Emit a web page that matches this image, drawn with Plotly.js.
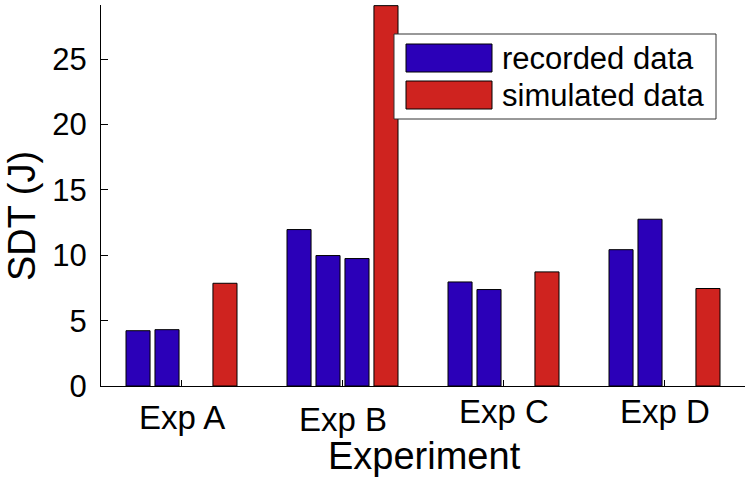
<!DOCTYPE html>
<html>
<head>
<meta charset="utf-8">
<script src="https://cdn.plot.ly/plotly-3.0.1.min.js"></script>
<style>
  html, body { margin: 0; padding: 0; background: #ffffff; }
  #chart { width: 750px; height: 483px; }
</style>
</head>
<body>
<div id="chart"></div>
<script>
// ---- data ----
const categories = ['Exp A', 'Exp B', 'Exp C', 'Exp D'];
const recordedRun1 = [4.23, 11.97, 7.96, 10.43];
const recordedRun2 = [4.31, 9.98, 7.38, 12.76];
const recordedRun3 = [null, 9.75, null, null];
const simulated = [7.86, 29.1, 8.73, 7.46];
const seriesNames = ['recorded data', 'simulated data'];
const yTickValues = [0, 5, 10, 15, 20, 25];

// ---- styles ----
const FONT = 'Liberation Sans, Arial, Helvetica, sans-serif';
const BLUE = '#2b00b8';
const RED = '#cf231f';
const seriesColors = [BLUE, RED];

// plot area in pixels (for layout helpers)
const PL = 101, PR = 745, PT = 5, PB = 386;
const W = 750, H = 483;
const px = x => (x - PL) / (PR - PL);
const py = y => (PB - y) / (PB - PT);

const outline = { color: '#000000', width: 1 };
const recordedSets = [recordedRun1, recordedRun2, recordedRun3];
const traces = recordedSets.map(vals => ({
  type: 'bar', x: categories, y: vals, name: seriesNames[0],
  marker: { color: seriesColors[0], line: outline }, showlegend: false, hoverinfo: 'x+y'
}));
traces.push({
  type: 'bar', x: categories, y: simulated, name: seriesNames[1],
  marker: { color: seriesColors[1], line: outline }, showlegend: false, hoverinfo: 'x+y'
});

// custom legend (large swatches like the original)
const shapes = [
  { type: 'rect', xref: 'paper', yref: 'paper', x0: px(394), x1: px(716), y0: py(119), y1: py(34),
    fillcolor: '#ffffff', line: { color: '#333333', width: 1 }, layer: 'above' }
];
const legendRows = [[44, 72], [81, 109]];
const annotations = [];
seriesNames.forEach((name, i) => {
  const [t, b] = legendRows[i];
  shapes.push({ type: 'rect', xref: 'paper', yref: 'paper', x0: px(406), x1: px(492), y0: py(b), y1: py(t),
    fillcolor: seriesColors[i], line: { color: '#000000', width: 1 }, layer: 'above' });
  annotations.push({ xref: 'paper', yref: 'paper', x: px(500), y: py((t + b) / 2), xanchor: 'left', yanchor: 'middle',
    text: name, showarrow: false, font: { family: FONT, size: 31, color: '#000000' } });
});

// category labels (slightly staggered as in the original)
const labelTop = [397, 399, 391, 391];
categories.forEach((c, i) => {
  annotations.push({ xref: 'x', yref: 'paper', x: c, y: py(labelTop[i]), xanchor: 'center', yanchor: 'top',
    text: c, showarrow: false, font: { family: FONT, size: 33, color: '#000000' } });
});

// y-axis title
annotations.push({ xref: 'paper', yref: 'paper', x: px(22), y: py(216), xanchor: 'center', yanchor: 'middle',
  text: 'SDT (J)', textangle: -90, showarrow: false, font: { family: FONT, size: 38, color: '#000000' } });
// x-axis title
annotations.push({ xref: 'paper', yref: 'paper', x: px(424), y: py(456), xanchor: 'center', yanchor: 'middle',
  text: 'Experiment', showarrow: false, font: { family: FONT, size: 38, color: '#000000' } });

const layout = {
  width: W, height: H,
  margin: { l: PL, r: W - PR, t: PT, b: H - PB, pad: 0 },
  paper_bgcolor: '#ffffff', plot_bgcolor: '#ffffff',
  barmode: 'group', bargap: 0.28, bargroupgap: 0.17,
  font: { family: FONT, size: 31, color: '#000000' },
  xaxis: {
    type: 'category', range: [-0.5, 3.5], showgrid: false, zeroline: false,
    showline: true, linecolor: '#000000', linewidth: 1,
    ticks: 'inside', ticklen: 6, tickcolor: '#000000', showticklabels: false
  },
  yaxis: {
    range: [0, 29.15], tickvals: yTickValues, ticktext: yTickValues.map(String),
    showgrid: false, zeroline: false, showline: true, linecolor: '#000000', linewidth: 1,
    ticks: 'inside', ticklen: 7, tickcolor: '#000000', ticklabelstandoff: 7,
    tickfont: { family: FONT, size: 31, color: '#000000' }
  },
  shapes: shapes,
  annotations: annotations,
  showlegend: false
};

Plotly.newPlot('chart', traces, layout, { staticPlot: true, displayModeBar: false });
</script>
</body>
</html>
